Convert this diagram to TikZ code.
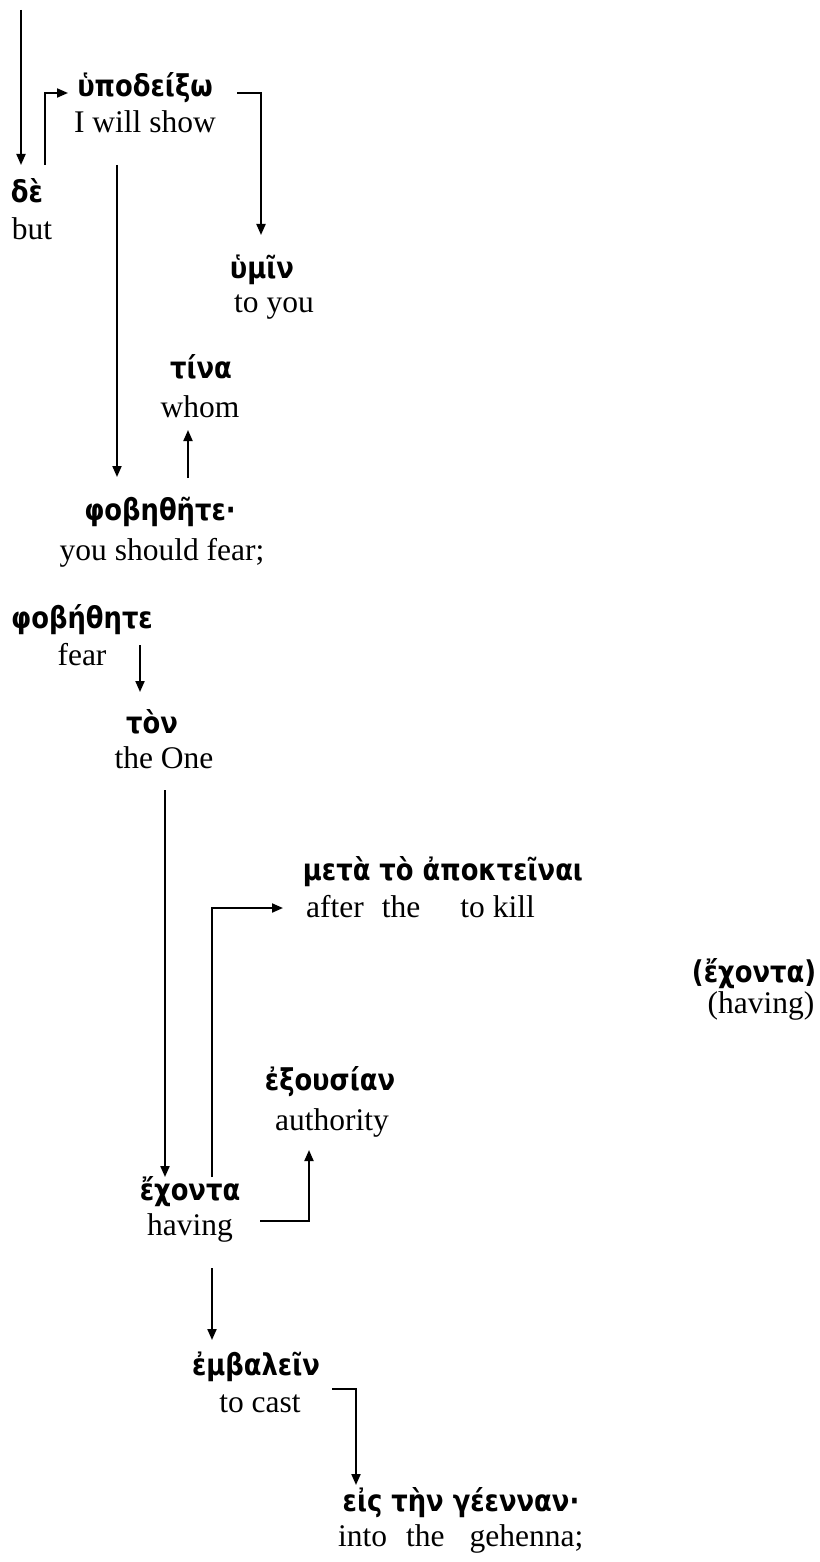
\documentclass[tikz,border=0pt]{standalone}
\usepackage{fontspec}
\setmainfont{Liberation Serif}
\newfontfamily\gkfont[Script=Greek,FakeStretch=0.86]{DejaVu Sans}
\usetikzlibrary{arrows.meta,calc}

\tikzset{
  gk/.style={inner sep=0pt, anchor=base, font=\gkfont\bfseries\fontsize{30}{34}\selectfont},
  en/.style={inner sep=0pt, anchor=base, font=\fontsize{31.5}{36}\selectfont},
  link/.style={line width=2pt, -{Triangle[length=11pt,width=9pt]}},
}

\begin{document}
\begin{tikzpicture}[x=1pt, y=-1pt]
  \useasboundingbox (0,0) rectangle (819,1562);

  % words: Greek above, gloss below
  \node[gk] (de)      at (27,203)   {δὲ};
  \node[en] (de-g)    at (32,240)   {but};
  \node[gk] (hypo)    at (145,97)   {ὑποδείξω};
  \node[en] (hypo-g)  at (145,133)  {I will show};
  \node[gk] (hymin)   at (262,278)  {ὑμῖν};
  \node[en] (hymin-g) at (274,312)  {to you};
  \node[gk] (tina)    at (201,378)  {τίνα};
  \node[en] (tina-g)  at (200,417)  {whom};
  \node[gk] (phob1)   at (160,520)  {φοβηθῆτε·};
  \node[en] (phob1-g) at (162,560)  {you should fear;};
  \node[gk] (phob2)   at (82,628)   {φοβήθητε};
  \node[en] (phob2-g) at (82,665)   {fear};
  \node[gk] (ton)     at (152,733)  {τὸν};
  \node[en] (ton-g)   at (164,768)  {the One};
  \node[gk] (meta)    at (443,880)  {μετὰ τὸ ἀποκτεῖναι};
  \node[en, anchor=base west] (meta-g) at (306,917)
        {after\hspace{18pt}the\hspace{40pt}to kill};
  \node[gk] (ech2)    at (754,982)  {(ἔχοντα)};
  \node[en] (ech2-g)  at (761,1013) {(having)};
  \node[gk] (exou)    at (330,1090) {ἐξουσίαν};
  \node[en] (exou-g)  at (332,1130) {authority};
  \node[gk] (ech)     at (190,1200) {ἔχοντα};
  \node[en] (ech-g)   at (190,1235) {having};
  \node[gk] (emb)     at (256,1375) {ἐμβαλεῖν};
  \node[en] (emb-g)   at (260,1412) {to cast};
  \node[gk] (eis)     at (461,1511) {εἰς τὴν γέενναν·};
  \node[en, anchor=base west] (eis-g) at (338,1546)
        {into\hspace{19pt}the\hspace{25pt}gehenna;};

  % connectors
  \coordinate (entry) at (21,10);
  \draw[link] (entry) -- ($(de.base)+(-6,-38)$);
  \draw[link] ($(de.base)+(18,-38)$) |- ($(hypo.base)+(-77,-4)$);
  \draw[link] ($(hypo.base)+(92,-4)$) -| ($(hymin.base)+(-1,-43)$);
  \draw[link] ($(hypo-g.base)+(-28,32)$) -- ($(phob1.base)+(-43,-43)$);
  \draw[link] ($(phob1.base)+(28,-42)$) -- ($(tina-g.base)+(-12,13)$);
  \draw[link] ($(phob2-g.base)+(58,-20)$) -- ($(ton.base)+(-12,-41)$);
  \draw[link] ($(ton-g.base)+(1,22)$) -- ($(ech.base)+(-25,-23)$);
  \draw[link] ($(ech.base)+(22,-23)$) |- ($(meta-g.base west)+(-23,-9)$);
  \draw[link] ($(ech-g.base)+(70,-14)$) -| ($(exou-g.base)+(-23,20)$);
  \draw[link] ($(ech-g.base)+(22,33)$) -- ($(emb.base)+(-44,-35)$);
  \draw[link] ($(emb-g.base)+(72,-23)$) -| ($(eis.base)+(-105,-26)$);
\end{tikzpicture}
\end{document}
